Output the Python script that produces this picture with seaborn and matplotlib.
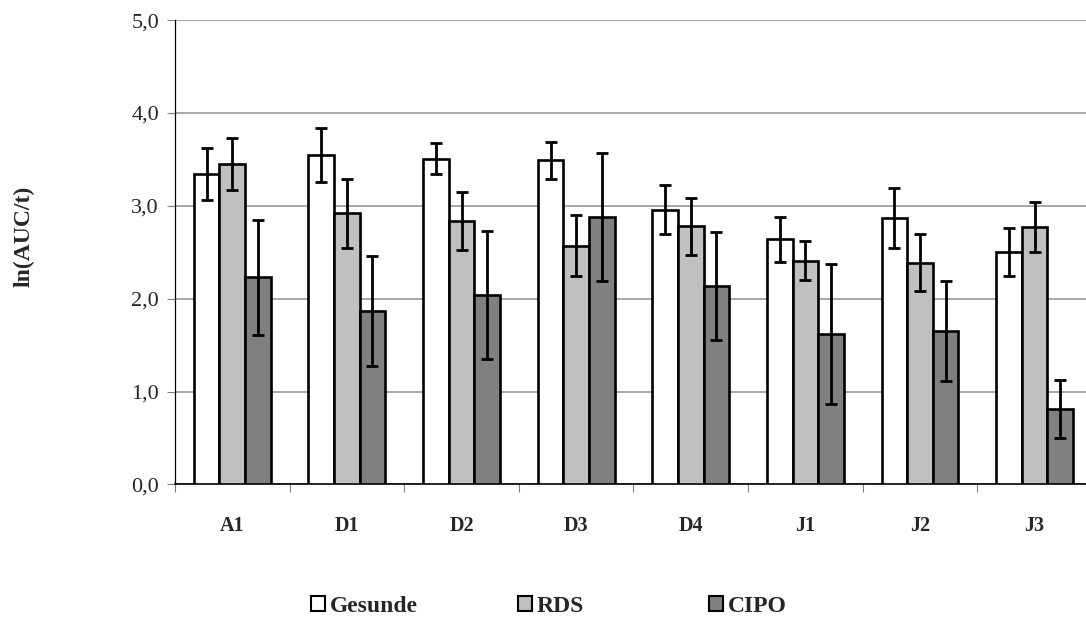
import numpy as np
import pandas as pd
import seaborn as sns
import matplotlib.pyplot as plt
from matplotlib.patches import Patch

categories = ['A1', 'D1', 'D2', 'D3', 'D4', 'J1', 'J2', 'J3']
groups = ['Gesunde', 'RDS', 'CIPO']

gesunde = [3.34, 3.55, 3.51, 3.49, 2.96, 2.64, 2.87, 2.50]
gesunde_err = [0.28, 0.29, 0.17, 0.20, 0.26, 0.24, 0.32, 0.26]
rds = [3.45, 2.92, 2.84, 2.57, 2.78, 2.41, 2.39, 2.77]
rds_err = [0.28, 0.37, 0.31, 0.33, 0.31, 0.21, 0.31, 0.27]
cipo = [2.23, 1.87, 2.04, 2.88, 2.14, 1.62, 1.65, 0.81]
cipo_err = [0.62, 0.59, 0.69, 0.69, 0.58, 0.75, 0.54, 0.31]

colors = ['#ffffff', '#c0c0c0', '#808080']
legend_x = [0.2864, 0.477, 0.653]  # left edge of each legend entry (figure fraction)

df = pd.DataFrame({
    'cat': categories * 3,
    'group': np.repeat(groups, len(categories)),
    'value': gesunde + rds + cipo,
    'err': gesunde_err + rds_err + cipo_err,
})

sns.set_style('white')
plt.rcParams['font.family'] = ['Liberation Serif', 'DejaVu Serif']

fig = plt.figure(figsize=(10.86, 6.3), dpi=100)
# plot area runs past the right edge of the picture, like the cropped original
ax = fig.add_axes([0.1611, 0.231, 0.8444, 0.737])

sns.barplot(data=df, x='cat', y='value', hue='group', palette=colors,
            width=0.67, errorbar=None, edgecolor='black', linewidth=1.9,
            ax=ax, legend=False, zorder=3)

# error bars on each bar
for container, g in zip(ax.containers, groups):
    errs = df[df['group'] == g]['err'].values
    xs = [b.get_x() + b.get_width() / 2 for b in container]
    ys = [b.get_height() for b in container]
    ax.errorbar(xs, ys, yerr=errs, fmt='none', ecolor='black',
                elinewidth=2.0, capsize=4.2, capthick=2.0, zorder=4)

ax.set_ylim(0, 5)
ax.set_xlim(-0.5, len(categories) - 0.5)
yt = np.arange(0, 5.01, 1.0)
ax.set_yticks(yt)
ax.set_yticklabels([f'{v:.1f}'.replace('.', ',') for v in yt], fontsize=16)
ax.yaxis.grid(True, color='#a0a0a0', linewidth=1.3, zorder=0)
ax.set_axisbelow(True)

ax.set_xticks(np.arange(-0.5, len(categories), 1.0))
ax.set_xticklabels([])
ax.set_xticks(np.arange(len(categories)), minor=True)
ax.set_xticklabels(categories, minor=True, fontsize=14.5, fontweight='bold')
ax.tick_params(axis='x', which='major', direction='out', length=5.5, width=0.8,
               color='#808080', bottom=True)
ax.tick_params(axis='x', which='minor', length=0, pad=23, bottom=True)
ax.tick_params(axis='y', direction='out', length=5.5, width=0.8, color='#808080',
               left=True, pad=6)

for s in ['top', 'right']:
    ax.spines[s].set_visible(False)
ax.spines['left'].set_color('black')
ax.spines['left'].set_linewidth(0.9)
ax.spines['bottom'].set_color('black')
ax.spines['bottom'].set_linewidth(1.2)

ax.set_xlabel('')
ax.set_ylabel('ln(AUC/t)', fontsize=17, fontweight='bold')
ax.yaxis.set_label_coords(-0.153, 0.535)

# Excel-style legend: each entry sits in its own fixed slot
for c, g, lx in zip(colors, groups, legend_x):
    h = Patch(facecolor=c, edgecolor='black', linewidth=1.5)
    fig.legend([h], [g], loc='center left', bbox_to_anchor=(lx, 0.038),
               frameon=False, prop={'size': 17, 'weight': 'bold'},
               handlelength=0.6, handleheight=0.6, handletextpad=0.2,
               borderpad=0, borderaxespad=0)

fig.savefig('out.png', dpi=100)
